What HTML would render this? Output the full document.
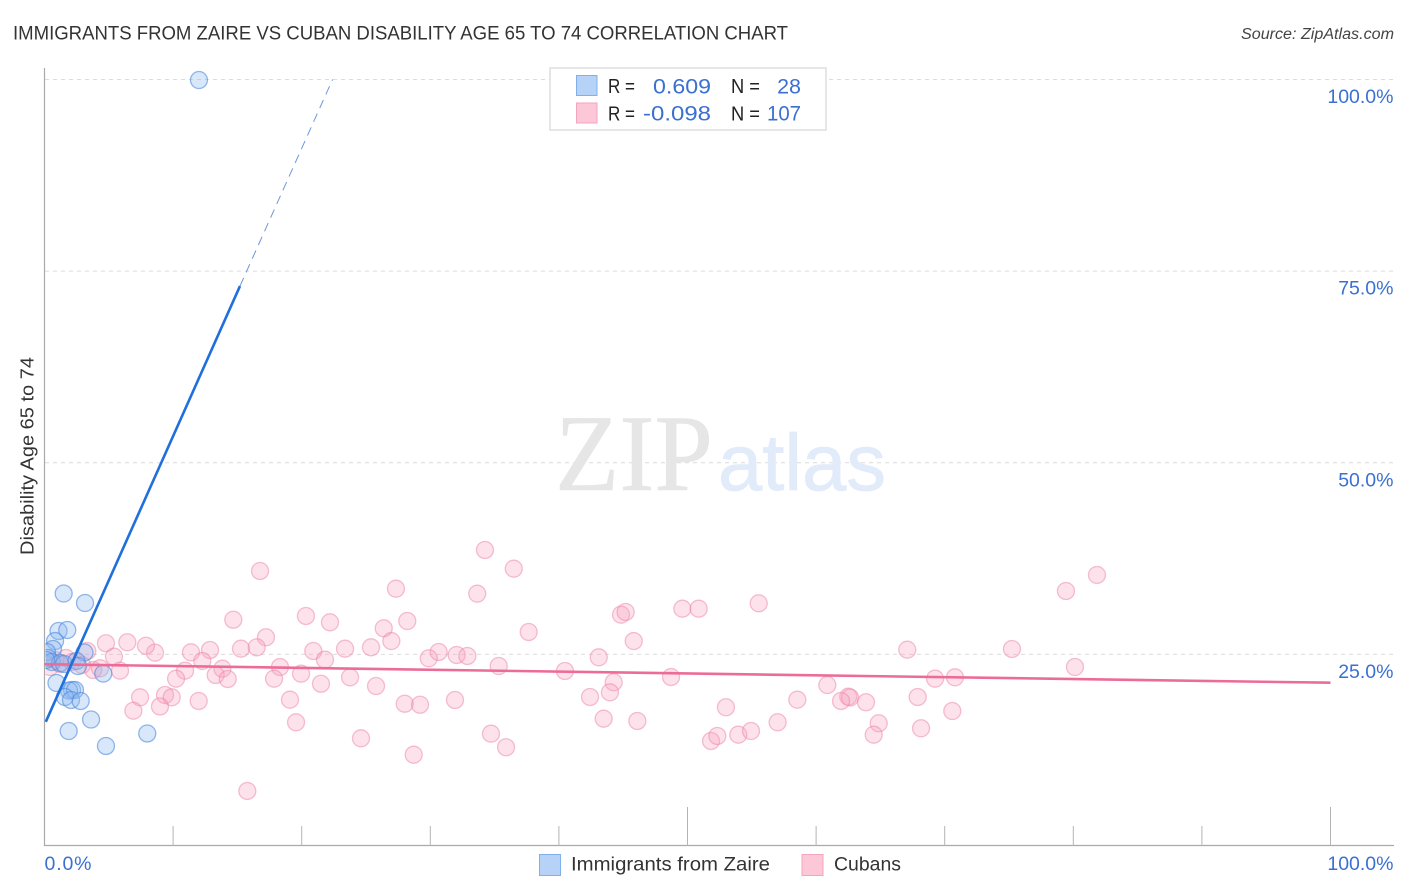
<!DOCTYPE html>
<html>
<head>
<meta charset="utf-8">
<title>Immigrants from Zaire vs Cuban Disability Age 65 to 74 Correlation Chart</title>
<style>
html,body{margin:0;padding:0;background:#fff;width:1406px;height:892px;overflow:hidden}
svg{display:block;font-family:"Liberation Sans",Arial,sans-serif}
</style>
</head>
<body>
<svg id="chart" width="1406" height="892" viewBox="0 0 1406 892" xmlns="http://www.w3.org/2000/svg">
  <defs>
    <clipPath id="plot-clip"><rect x="45.5" y="60" width="1350" height="786"/></clipPath>
  </defs>
  <text x="13" y="39.5" font-size="19.5" fill="#333" textLength="775" lengthAdjust="spacingAndGlyphs">IMMIGRANTS FROM ZAIRE VS CUBAN DISABILITY AGE 65 TO 74 CORRELATION CHART</text>
  <text x="1394" y="39" font-size="15.5" font-style="italic" fill="#444" text-anchor="end" textLength="153" lengthAdjust="spacingAndGlyphs">Source: ZipAtlas.com</text>
  <text transform="translate(33.5,555) rotate(-90)" font-size="18.5" fill="#333" textLength="198" lengthAdjust="spacingAndGlyphs">Disability Age 65 to 74</text>

  <g id="grid"></g>

  <g>
    <text x="555" y="490" font-family="'Liberation Serif',serif" font-size="109" fill="#e6e6e6" stroke="#e6e6e6" stroke-width="0.6" textLength="158" lengthAdjust="spacingAndGlyphs">ZIP</text>
    <text x="718" y="490" font-size="80" fill="#e2ebf9" stroke="#e2ebf9" stroke-width="0.8" textLength="168" lengthAdjust="spacingAndGlyphs">atlas</text>
  </g>

  <g id="axes"></g>
  <g id="cubans-points" clip-path="url(#plot-clip)"></g>
  <g id="zaire-points" clip-path="url(#plot-clip)"></g>
  <g id="trendlines"></g>
  <g id="tick-labels"></g>

  <g>
    <rect x="550" y="68" width="276" height="62" fill="#fff" stroke="#dedede" stroke-width="1.5"/>
    <rect x="576.5" y="75.5" width="20.5" height="20" fill="#b6d3f7" stroke="#7fb0ea" stroke-width="1"/>
    <rect x="576.5" y="103" width="20.5" height="20" fill="#fcc8d8" stroke="#f4a5be" stroke-width="1"/>
    <text x="608" y="93" font-size="20" fill="#222" textLength="27" lengthAdjust="spacingAndGlyphs">R =</text>
    <text x="711" y="93.5" font-size="21.5" fill="#3b70d0" text-anchor="end" textLength="58" lengthAdjust="spacingAndGlyphs">0.609</text>
    <text x="731" y="93" font-size="20" fill="#222" textLength="29" lengthAdjust="spacingAndGlyphs">N =</text>
    <text x="801" y="93.5" font-size="21.5" fill="#3b70d0" text-anchor="end">28</text>
    <text x="608" y="120.5" font-size="20" fill="#222" textLength="27" lengthAdjust="spacingAndGlyphs">R =</text>
    <text x="711" y="120.5" font-size="21.5" fill="#3b70d0" text-anchor="end" textLength="68" lengthAdjust="spacingAndGlyphs">-0.098</text>
    <text x="731" y="120.5" font-size="20" fill="#222" textLength="29" lengthAdjust="spacingAndGlyphs">N =</text>
    <text x="801" y="120.5" font-size="21.5" fill="#3b70d0" text-anchor="end" textLength="34" lengthAdjust="spacingAndGlyphs">107</text>
  </g>

  <g>
    <rect x="539.5" y="854.5" width="21" height="21" fill="#b6d3f7" stroke="#7fb0ea" stroke-width="1"/>
    <text x="571" y="870.5" font-size="19.5" fill="#333" textLength="199" lengthAdjust="spacingAndGlyphs">Immigrants from Zaire</text>
    <rect x="802" y="854.5" width="21" height="21" fill="#fcc8d8" stroke="#f4a5be" stroke-width="1"/>
    <text x="834" y="870.5" font-size="19.5" fill="#333" textLength="67" lengthAdjust="spacingAndGlyphs">Cubans</text>
  </g>
</svg>
<script>
var zaireX = [12.01,1.49,3.15,1.09,1.77,0.82,0.66,0.19,0.27,0.58,1.21,0.12,1.52,3.11,2.49,2.60,4.57,0.93,2.14,1.91,2.37,1.59,2.06,2.81,3.62,1.88,7.99,4.78];
var zaireY = [99.93,32.94,31.70,28.05,28.18,26.74,25.70,25.31,24.53,24.01,23.87,24.27,23.74,25.24,24.14,23.48,22.50,21.27,20.35,20.29,20.35,19.44,19.05,18.92,16.50,15.00,14.68,13.05];
var cubansX = [16.76,27.33,20.33,22.20,28.21,26.38,17.22,14.68,26.97,16.50,15.28,12.87,11.39,8.59,7.89,20.90,23.37,25.39,30.65,29.88,21.81,12.27,13.83,10.93,18.31,13.31,14.25,10.23,17.85,19.95,21.50,23.76,25.78,9.37,9.89,8.98,11.99,19.09,28.01,29.20,19.56,24.61,28.71,15.77,4.78,6.44,5.40,3.33,7.43,6.91,5.87,3.79,4.32,34.25,36.49,33.65,37.65,32.05,32.88,35.32,40.47,43.10,44.26,43.97,42.42,43.48,46.10,31.92,34.72,35.89,44.83,45.19,45.82,48.72,49.60,50.87,52.99,51.83,52.32,53.95,55.54,67.09,69.25,70.80,60.87,58.54,67.90,62.50,62.64,61.94,63.88,70.59,57.01,64.87,68.16,64.48,54.94,75.23,80.13,81.84,79.43,0.43,0.82,1.21,1.67,2.14,2.92];
var cubansY = [35.88,33.57,30.01,29.18,29.35,28.40,27.23,29.52,26.74,25.92,25.74,25.57,25.27,25.22,26.13,25.44,25.74,25.92,25.31,24.49,24.31,24.14,23.13,22.87,23.35,22.31,21.79,21.83,21.83,22.48,21.17,22.01,20.87,19.70,19.40,18.20,18.92,19.09,18.56,18.43,16.14,14.05,11.91,7.18,26.45,26.58,24.70,25.44,19.40,17.65,22.87,22.96,23.18,38.62,36.18,32.92,27.92,24.92,24.79,23.48,22.83,24.62,21.36,20.05,19.44,16.61,16.31,19.05,14.65,12.88,30.18,30.53,26.74,22.05,30.96,30.96,18.10,13.70,14.35,14.52,31.66,25.61,21.83,22.01,21.00,19.09,19.44,19.48,19.37,18.92,18.75,17.61,16.14,16.01,15.36,14.52,15.00,25.70,23.35,35.36,33.27,23.35,24.27,23.74,24.53,24.01,23.61];
var xTicks = [0,10,20,30,40,50,60,70,80,90,100];
var majorXTicks = [50,100];
var yTicks = [25,50,75,100];
var yTickLabels = ["25.0%","50.0%","75.0%","100.0%"];
var xLabelTicks = [0,100];
var xTickLabels = ["0.0%","100.0%"];
var zaireTrendStart = [0.1,16.2];
var zaireTrendSolidEnd = [15.2,73.05];
var zaireTrendDashEnd = [22.4,100];
var cubansTrendStart = [0,23.72];
var cubansTrendEnd = [100,21.30];

var SVGNS = 'http://www.w3.org/2000/svg';
function xScale(v){ return 44.5 + v * 12.86; }
function yScale(v){ return 846 - v * 7.665; }
function make(tag, parent, attrs){
  var el = document.createElementNS(SVGNS, tag);
  for (var k in attrs) el.setAttribute(k, attrs[k]);
  parent.appendChild(el);
  return el;
}

var gridG = document.getElementById('grid');
yTicks.forEach(function(v){
  var el = make('line', gridG, {x1:45, x2:1394, y1:yScale(v), y2:yScale(v), stroke:'#dcdcdc', 'stroke-width':1, 'stroke-dasharray':'4 4'});
  
  
});

var axesG = document.getElementById('axes');
var yAxisLine = make('line', axesG, {x1:44.5, x2:44.5, y1:68, y2:846, stroke:'#aaaaaa', 'stroke-width':1.2});


var xAxisLine = make('line', axesG, {x1:44, x2:1394, y1:845.5, y2:845.5, stroke:'#aaaaaa', 'stroke-width':1.2});


xTicks.forEach(function(v){
  if (v === 0) return;
  var top = majorXTicks.indexOf(v) >= 0 ? 807 : 826;
  var el = make('line', axesG, {x1:xScale(v), x2:xScale(v), y1:top, y2:846, stroke:'#b4b4b4', 'stroke-width':1});
  
  
});

var pinkG = document.getElementById('cubans-points');
cubansX.forEach(function(v, i){
  var el = make('circle', pinkG, {cx:xScale(v), cy:yScale(cubansY[i]), r:8.5, fill:'#f7a0bc', 'fill-opacity':0.3, stroke:'#ec86a8', 'stroke-opacity':0.52, 'stroke-width':1.3});
  
  
});

var blueG = document.getElementById('zaire-points');
zaireX.forEach(function(v, i){
  var el = make('circle', blueG, {cx:xScale(v), cy:yScale(zaireY[i]), r:8.5, fill:'#8db8f0', 'fill-opacity':0.34, stroke:'#4f8bdc', 'stroke-opacity':0.6, 'stroke-width':1.3});
  
  
});

var trendG = document.getElementById('trendlines');
var pinkLine = make('line', trendG, {x1:xScale(cubansTrendStart[0]), y1:yScale(cubansTrendStart[1]), x2:xScale(cubansTrendEnd[0]), y2:yScale(cubansTrendEnd[1]), stroke:'#ec6c98', 'stroke-width':2.6});


var blueSolid = make('line', trendG, {x1:xScale(zaireTrendStart[0]), y1:yScale(zaireTrendStart[1]), x2:xScale(zaireTrendSolidEnd[0]), y2:yScale(zaireTrendSolidEnd[1]), stroke:'#1f6fdc', 'stroke-width':2.6});


var blueDash = make('line', trendG, {x1:xScale(zaireTrendSolidEnd[0]), y1:yScale(zaireTrendSolidEnd[1]), x2:xScale(zaireTrendDashEnd[0]), y2:yScale(zaireTrendDashEnd[1]), stroke:'#6f97d8', 'stroke-width':1, 'stroke-dasharray':'9 6'});



var labelG = document.getElementById('tick-labels');
yTicks.forEach(function(v, i){
  var el = make('text', labelG, {x:1393.5, y:yScale(v) + 23.5, 'font-size':19.5, fill:'#3b70d0', 'text-anchor':'end'});
  
  
  el.textContent = yTickLabels[i];
});
xLabelTicks.forEach(function(v, i){
  var el = make('text', labelG, {x:i === 0 ? xScale(v) : 1393.5, y:870, 'font-size':19.5, fill:'#3b70d0', 'text-anchor':i === 0 ? 'start' : 'end'});
  
  
  el.textContent = xTickLabels[i];
  if (i === 0) el.setAttribute('textLength', '47');
});
</script>
</body>
</html>
